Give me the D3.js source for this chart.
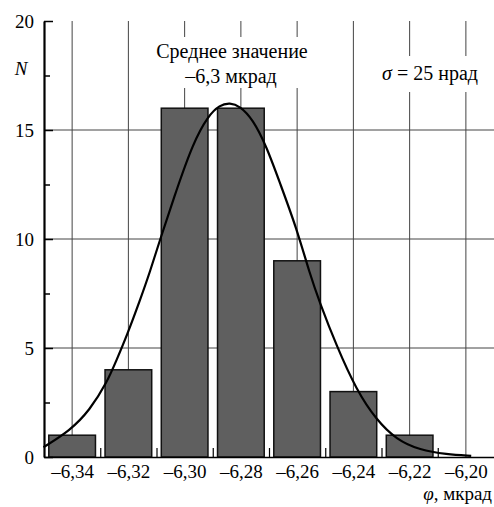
<!DOCTYPE html>
<html>
<head>
<meta charset="utf-8">
<script src="https://cdn.jsdelivr.net/npm/d3@7"></script>
<style>
  body { margin: 0; background: #fff; }
</style>
</head>
<body>
<svg id="chart" width="494" height="507"></svg>
<script>
// histogram bins (centre, mrad) and counts
var binCentres = [-6.34, -6.32, -6.30, -6.28, -6.26, -6.24, -6.22];
var binCounts = [1, 4, 16, 16, 9, 3, 1];

// fitted curve
var curveX = [-6.3502, -6.3408, -6.3337, -6.3277, -6.3242, -6.3206, -6.3159, -6.3123,
  -6.3088, -6.3029, -6.2970, -6.2917, -6.2875, -6.2839, -6.2804, -6.2758, -6.2709,
  -6.2662, -6.2602, -6.2555, -6.2520, -6.2460, -6.2389, -6.2318, -6.2247, -6.2164,
  -6.2069, -6.1981];
var curveY = [0.45, 1.20, 2.15, 3.40, 4.45, 5.55, 7.18, 8.50,
  9.95, 12.25, 14.40, 15.65, 16.15, 16.25, 16.10, 15.50, 14.25,
  12.60, 10.50, 8.40, 7.10, 5.10, 3.07, 1.70, 0.80, 0.32,
  0.12, 0.05];

var xTicks = [-6.34, -6.32, -6.30, -6.28, -6.26, -6.24, -6.22, -6.20];
var xMinorTicks = [-6.33, -6.31, -6.29, -6.27, -6.25, -6.23, -6.21];
var yTicks = [0, 5, 10, 15, 20];
var yMinorTicks = [2.5, 7.5, 12.5, 17.5];
var yGrid = [5, 10, 15];

var FONT = "'Liberation Serif', 'DejaVu Serif', serif";

var svg = d3.select('#chart');

var x = d3.scaleLinear().domain([-6.35, -6.19]).range([44, 494]);
var y = d3.scaleLinear().domain([0, 20]).range([457, 21]);

var binWidth = 0.0166;

function fmt(d) {
  return '\u2013' + d3.format('.2f')(-d).replace('.', ',');
}

// grid
var grid = svg.append('g').attr('stroke', '#444').attr('stroke-width', 1);
grid.selectAll('line.v')
  .data(xTicks)
  .enter()
  .append('line')
  .attr('x1', function(d) { return x(d); })
  .attr('x2', function(d) { return x(d); })
  .attr('y1', y(20))
  .attr('y2', y(0));
grid.selectAll('line.h')
  .data(yGrid)
  .enter()
  .append('line')
  .attr('x1', x(-6.35))
  .attr('x2', x(-6.19))
  .attr('y1', function(d) { return y(d); })
  .attr('y2', function(d) { return y(d); });

// white boxes behind the labels
svg.append('rect').attr('x', 146).attr('y', 37).attr('width', 172).attr('height', 51).attr('fill', '#fff');
svg.append('rect').attr('x', 374).attr('y', 56).attr('width', 114).attr('height', 36).attr('fill', '#fff');

// bars
svg.append('g')
  .selectAll('rect')
  .data(binCounts)
  .enter()
  .append('rect')
  .attr('x', function(d, i) { return x(binCentres[i] - binWidth / 2); })
  .attr('width', function() { return x(-6.35 + binWidth) - x(-6.35); })
  .attr('y', function(d) { return y(d); })
  .attr('height', function(d) { return y(0) - y(d); })
  .attr('fill', '#5f5f5f')
  .attr('stroke', '#111')
  .attr('stroke-width', 1.5);

// curve
var line = d3.line()
  .x(function(d, i) { return x(curveX[i]); })
  .y(function(d) { return y(d); })
  .curve(d3.curveBasis);

svg.append('path')
  .datum(curveY)
  .attr('d', line)
  .attr('fill', 'none')
  .attr('stroke', '#000')
  .attr('stroke-width', 2.2);

// axes
var yAxis = d3.axisLeft(y)
  .tickValues(yTicks)
  .tickSizeInner(-9)
  .tickSizeOuter(0)
  .tickPadding(10);
var gy = svg.append('g').attr('transform', 'translate(44,0)').call(yAxis);
gy.select('.domain').attr('stroke-width', 2.2);
gy.selectAll('.tick line').attr('stroke-width', 1.5);
gy.selectAll('text').style('font-family', FONT).style('font-size', '19px').attr('fill', '#000');

svg.append('g').attr('transform', 'translate(44,0)')
  .call(d3.axisLeft(y).tickValues(yMinorTicks).tickSizeInner(-6).tickSizeOuter(0).tickFormat(''))
  .call(function(g) { g.select('.domain').remove(); })
  .selectAll('.tick line').attr('stroke-width', 1.5);

var xAxis = d3.axisBottom(x)
  .tickValues(xTicks)
  .tickSizeInner(0)
  .tickSizeOuter(0)
  .tickPadding(8)
  .tickFormat(fmt);
var gx = svg.append('g').attr('transform', 'translate(0,457)').call(xAxis);
gx.select('.domain').attr('stroke-width', 1.6);
gx.selectAll('text').style('font-family', FONT).style('font-size', '19px').attr('fill', '#000');

svg.append('g').attr('transform', 'translate(0,457)')
  .call(d3.axisBottom(x).tickValues(xMinorTicks).tickSizeInner(-9).tickSizeOuter(0).tickFormat(''))
  .call(function(g) { g.select('.domain').remove(); })
  .selectAll('.tick line').attr('stroke-width', 1.2);

// labels
svg.append('text')
  .attr('x', 21).attr('y', 75)
  .attr('text-anchor', 'middle')
  .style('font-family', FONT)
  .style('font-size', '19px')
  .style('font-style', 'italic')
  .text('N');

var note = svg.append('text')
  .attr('text-anchor', 'middle')
  .style('font-family', FONT)
  .style('font-size', '20px');
note.append('tspan').attr('x', 232).attr('y', 58).text('Среднее значение');
note.append('tspan').attr('x', 231).attr('y', 83).text('\u20136,3 мкрад');

var sigma = svg.append('text')
  .attr('x', 430).attr('y', 80)
  .attr('text-anchor', 'middle')
  .style('font-family', FONT)
  .style('font-size', '20px');
sigma.append('tspan').style('font-style', 'italic').text('σ');
sigma.append('tspan').text(' = 25 нрад');

var xTitle = svg.append('text')
  .attr('x', 492).attr('y', 500)
  .attr('text-anchor', 'end')
  .style('font-family', FONT)
  .style('font-size', '19px');
xTitle.append('tspan').style('font-style', 'italic').text('φ');
xTitle.append('tspan').text(', мкрад');
</script>
</body>
</html>
